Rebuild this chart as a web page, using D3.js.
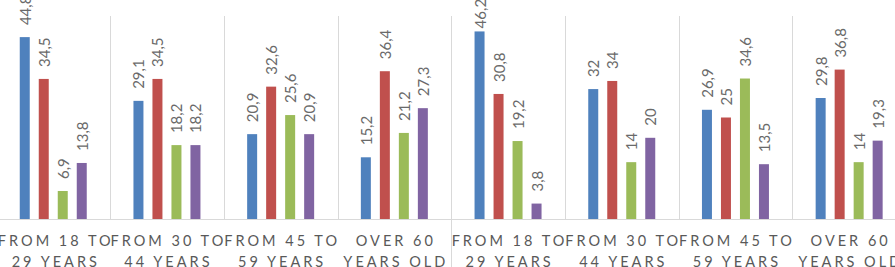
<!DOCTYPE html>
<html>
<head>
<meta charset="utf-8">
<script src="https://cdn.jsdelivr.net/npm/d3@7"></script>
<style>
  html, body { margin: 0; padding: 0; background: #fff; }
  svg { display: block; }
</style>
</head>
<body>
<svg id="chart" width="895" height="267"></svg>
<script>
// ---- data ----
const categoryLine1 = ["FROM 18 TO", "FROM 30 TO", "FROM 45 TO", "OVER 60", "FROM 18 TO", "FROM 30 TO", "FROM 45 TO", "OVER 60"];
const categoryLine2 = ["29 YEARS", "44 YEARS", "59 YEARS", "YEARS OLD", "29 YEARS", "44 YEARS", "59 YEARS", "YEARS OLD"];
const seriesNames = ["s1", "s2", "s3", "s4"];
const series1 = [44.8, 29.1, 20.9, 15.2, 46.2, 32, 26.9, 29.8];
const series2 = [34.5, 34.5, 32.6, 36.4, 30.8, 34, 25, 36.8];
const series3 = [6.9, 18.2, 25.6, 21.2, 19.2, 14, 34.6, 14];
const series4 = [13.8, 18.2, 20.9, 27.3, 3.8, 20, 13.5, 19.3];
const seriesColors = ["#4F81BD", "#C0504D", "#9BBB59", "#8064A2"];
const yDomain = [0, 50];

const allSeries = [series1, series2, series3, series4];

const svg = d3.select("#chart");
const W = 895, H = 267;
const baseY = 219, topY = 16;
const groupStep = 113.7;
const x0 = -3.6;

const groups = d3.range(categoryLine1.length);
const xGroup = d3.scaleBand().domain(groups).range([x0, x0 + groupStep * groups.length]).padding(0);
const xInner = d3.scaleBand().domain(seriesNames).range([0, xGroup.bandwidth()])
  .paddingInner(0.474).paddingOuter(1.229);
const y = d3.scaleLinear().domain(yDomain).range([baseY, topY]);

const fmt = v => String(v).replace(".", ",");

// separators
const sepIdx = d3.range(1, groups.length);
svg.selectAll("line.sep").data(sepIdx).enter().append("line")
  .attr("class", "sep")
  .attr("x1", d => Math.round(xGroup(d)) + 0.5)
  .attr("x2", d => Math.round(xGroup(d)) + 0.5)
  .attr("y1", y(yDomain[1]))
  .attr("y2", d => d === 4 ? H : baseY)
  .attr("stroke", "#d9d9d9").attr("stroke-width", 1);

// baseline
svg.append("line")
  .attr("x1", 0).attr("x2", W)
  .attr("y1", y(0) + 0.5).attr("y2", y(0) + 0.5)
  .attr("stroke", "#d9d9d9").attr("stroke-width", 1);

// bars
const cells = [];
groups.forEach(g => seriesNames.forEach((s, i) => cells.push({g, s, i, v: allSeries[i][g]})));

svg.selectAll("rect.bar").data(cells).enter().append("rect")
  .attr("class", "bar")
  .attr("x", d => xGroup(d.g) + xInner(d.s))
  .attr("width", xInner.bandwidth())
  .attr("y", d => y(d.v))
  .attr("height", d => y(0) - y(d.v))
  .attr("fill", d => seriesColors[d.i]);

// value labels
svg.selectAll("text.val").data(cells).enter().append("text")
  .attr("class", "val")
  .attr("text-anchor", "start")
  .attr("dominant-baseline", "central")
  .attr("font-family", "Lato, sans-serif")
  .attr("font-size", 15)
  .attr("fill", "#6a6a6a")
  .text(d => fmt(d.v))
  .attr("transform", function(d) {
    const len = this.getComputedTextLength();
    let gap = 12;
    if (y(d.v) - gap - len < -6) gap = 3;
    return `translate(${xGroup(d.g) + xInner(d.s) + xInner.bandwidth() / 2},${y(d.v) - gap}) rotate(-90)`;
  });

// category labels
const ls = 3;
groups.forEach(g => {
  const cx = xGroup(g) + xGroup.bandwidth() / 2 + ls / 2 + (g === 0 ? 1 : 0);
  [categoryLine1[g], categoryLine2[g]].forEach((t, li) => {
    svg.append("text")
      .attr("x", cx)
      .attr("y", li === 0 ? 245.5 : 267)
      .attr("text-anchor", "middle")
      .attr("font-family", "Lato, sans-serif")
      .attr("font-size", 14.5)
      .attr("letter-spacing", ls)
      .attr("fill", "#595959")
      .text(t);
  });
});
</script>
</body>
</html>
